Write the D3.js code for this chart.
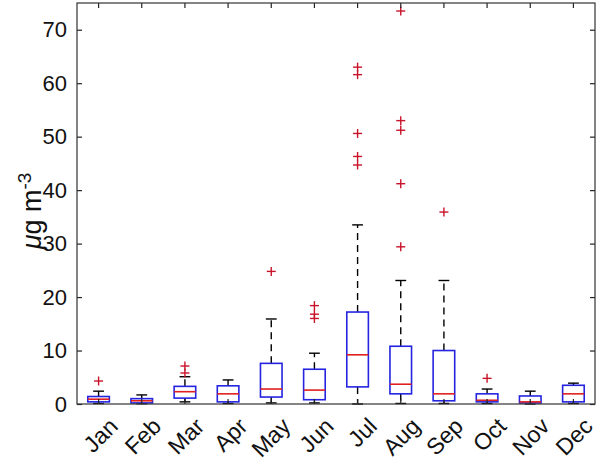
<!DOCTYPE html>
<html>
<head>
<meta charset="utf-8">
<script src="https://cdn.jsdelivr.net/npm/d3@7"></script>
<style>
  body { margin: 0; background: #fff; }
  svg { display: block; font-family: "Liberation Sans", Arial, sans-serif; }
</style>
</head>
<body>
<svg id="chart" width="600" height="465"></svg>
<script>
const months = ["Jan","Feb","Mar","Apr","May","Jun","Jul","Aug","Sep","Oct","Nov","Dec"];
const whiskerLow  = [0.1, 0.05, 0.4, 0.1, 0.2, 0.2, 0.0, 0.1, 0.1, 0.1, 0.0, 0.1];
const q1          = [0.4, 0.2, 1.1, 0.4, 1.3, 0.8, 3.2, 1.9, 0.6, 0.4, 0.2, 0.4];
const medians     = [0.9, 0.6, 2.3, 1.9, 2.8, 2.6, 9.2, 3.7, 1.9, 0.7, 0.4, 1.9];
const q3          = [1.4, 1.0, 3.3, 3.4, 7.6, 6.5, 17.2, 10.8, 10.0, 1.9, 1.5, 3.5];
const whiskerHigh = [2.4, 1.7, 5.1, 4.5, 15.9, 9.5, 33.5, 23.1, 23.1, 2.8, 2.4, 3.9];
const outliers = [
  [4.3], [], [5.8, 7.1], [], [24.8], [16.0, 16.8, 18.4],
  [44.7, 46.3, 50.6, 61.6, 63.0], [29.4, 41.2, 51.2, 53.0, 73.5], [35.9], [4.8], [], []
];
const yTicks = [0, 10, 20, 30, 40, 50, 60, 70];

const svg = d3.select("#chart");
const L = 77, R = 595, T = 3, B = 404;

const x = d3.scaleBand().domain(months).range([L, R]).paddingInner(0).paddingOuter(0);
const y = d3.scaleLinear().domain([0, 75]).range([B, T]);
const bw = x.bandwidth() * 0.5;
const cx = m => x(m) + x.bandwidth() / 2;

const data = months.map((m, i) => ({
  m, lo: whiskerLow[i], q1: q1[i], med: medians[i], q3: q3[i], hi: whiskerHigh[i], out: outliers[i]
}));

const g = svg.append("g");

// whiskers (dashed)
g.selectAll(".wu").data(data).join("line")
  .attr("x1", d => cx(d.m)).attr("x2", d => cx(d.m))
  .attr("y1", d => y(d.q3)).attr("y2", d => y(d.hi))
  .attr("stroke", "#000").attr("stroke-width", 1.4).attr("stroke-dasharray", "7,5");
g.selectAll(".wl").data(data).join("line")
  .attr("x1", d => cx(d.m)).attr("x2", d => cx(d.m))
  .attr("y1", d => y(d.q1)).attr("y2", d => y(d.lo))
  .attr("stroke", "#000").attr("stroke-width", 1.4).attr("stroke-dasharray", "7,5");
// caps
["hi", "lo"].forEach(k => {
  g.selectAll(".cap" + k).data(data).join("line")
    .attr("x1", d => cx(d.m) - bw / 4).attr("x2", d => cx(d.m) + bw / 4)
    .attr("y1", d => y(d[k])).attr("y2", d => y(d[k]))
    .attr("stroke", "#000").attr("stroke-width", 1.4);
});
// boxes
g.selectAll(".box").data(data).join("rect")
  .attr("x", d => cx(d.m) - bw / 2).attr("width", bw)
  .attr("y", d => y(d.q3)).attr("height", d => y(d.q1) - y(d.q3))
  .attr("fill", "none").attr("stroke", "#2424e0").attr("stroke-width", 1.6);
// medians
g.selectAll(".med").data(data).join("line")
  .attr("x1", d => cx(d.m) - bw / 2).attr("x2", d => cx(d.m) + bw / 2)
  .attr("y1", d => y(d.med)).attr("y2", d => y(d.med))
  .attr("stroke", "#e02020").attr("stroke-width", 1.6);
// outliers
const outPts = data.flatMap(d => d.out.map(v => ({ m: d.m, v })));
const ms = 4.5;
g.selectAll(".oh").data(outPts).join("line")
  .attr("x1", d => cx(d.m) - ms).attr("x2", d => cx(d.m) + ms)
  .attr("y1", d => y(d.v)).attr("y2", d => y(d.v))
  .attr("stroke", "#c8142a").attr("stroke-width", 1.4);
g.selectAll(".ov").data(outPts).join("line")
  .attr("x1", d => cx(d.m)).attr("x2", d => cx(d.m))
  .attr("y1", d => y(d.v) - ms).attr("y2", d => y(d.v) + ms)
  .attr("stroke", "#c8142a").attr("stroke-width", 1.4);

// axes with inward ticks
const tk = 5;
const yAxisL = d3.axisLeft(y).tickValues(yTicks).tickSize(-tk).tickPadding(10).tickFormat(d3.format("d"));
const yAxisR = d3.axisRight(y).tickValues(yTicks).tickSize(-tk).tickFormat("");
const xAxisB = d3.axisBottom(x).tickSize(-tk).tickFormat("");
const xAxisT = d3.axisTop(x).tickSize(-tk).tickFormat("");

const ga = svg.append("g");
const yl = ga.append("g").attr("transform", `translate(${L},0)`).call(yAxisL);
ga.append("g").attr("transform", `translate(${R},0)`).call(yAxisR);
ga.append("g").attr("transform", `translate(0,${B})`).call(xAxisB);
ga.append("g").attr("transform", `translate(0,${T})`).call(xAxisT);
ga.selectAll(".domain").remove();
ga.selectAll(".tick line").attr("stroke", "#222").attr("stroke-width", 1.2);
yl.selectAll("text").attr("font-size", 22).attr("fill", "#111")
  .attr("font-family", "'Liberation Sans', Arial, sans-serif");

ga.append("rect").attr("x", L).attr("y", T).attr("width", R - L).attr("height", B - T)
  .attr("fill", "none").attr("stroke", "#333").attr("stroke-width", 1.2);

// x labels rotated
svg.append("g").selectAll("text").data(months).join("text")
  .attr("transform", m => `translate(${cx(m) + 9},${B + 12}) rotate(-45)`)
  .attr("text-anchor", "end").attr("dy", "0.72em")
  .attr("font-size", 23).attr("fill", "#111").text(m => m);

// y label
const ylab = svg.append("text")
  .attr("transform", `translate(41,211) rotate(-90)`)
  .attr("text-anchor", "middle").attr("font-size", 27).attr("fill", "#111");
ylab.append("tspan").attr("font-style", "italic").text("μ");
ylab.append("tspan").text("g m");
ylab.append("tspan").attr("dy", "-0.55em").attr("font-size", 19).text("-3");
</script>
</body>
</html>
